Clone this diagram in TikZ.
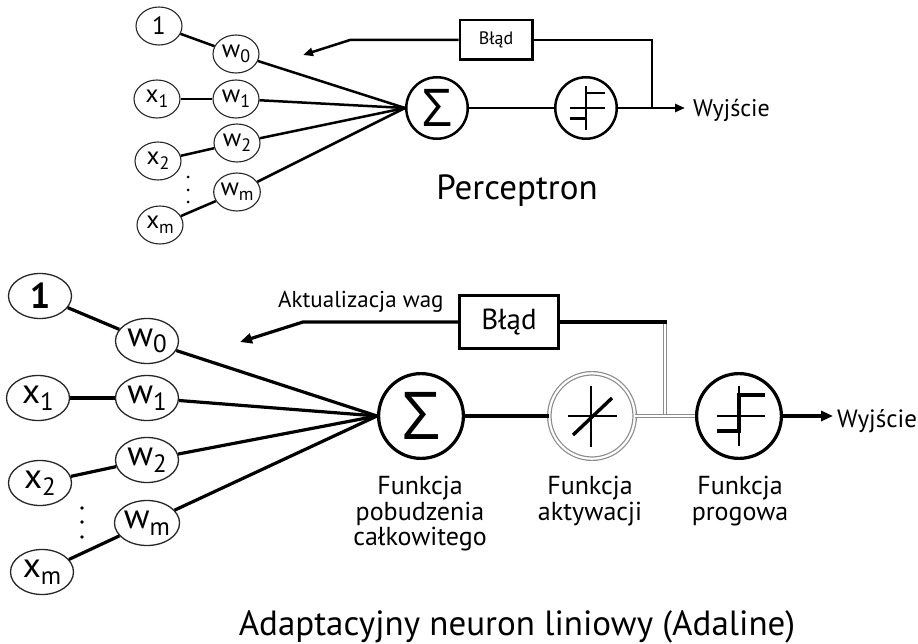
\documentclass[tikz,border=0pt]{standalone}
\usepackage{fontspec}
\setmainfont{PT Sans}
\newfontfamily\sigmafont{Open Sans}
\usetikzlibrary{arrows.meta,shapes.geometric}
\newcommand\fs[1]{\fontsize{#1}{#1}\selectfont}
\newcommand\sbT[1]{\raisebox{-4.5pt}{\fs{18}#1}}
\newcommand\sbB[1]{\raisebox{-6.5pt}{\fs{25}#1}}
\tikzset{
  inT/.style={ellipse, draw=black!85, line width=1.1pt, minimum width=46pt, minimum height=38pt, inner sep=0pt, font=\fs{25}},
  inB/.style={ellipse, draw=black!85, line width=1.3pt, minimum width=63pt, minimum height=45pt, inner sep=0pt, font=\fs{35}},
  unitT/.style={circle, draw, line width=2.5pt, minimum size=61.5pt, inner sep=0pt},
  unitB/.style={circle, draw, line width=3.2pt, minimum size=84.8pt, inner sep=0pt},
  dblunit/.style={circle, draw=black!45, line width=1.2pt, double=white, double distance=2.2pt, minimum size=85.4pt, inner sep=0pt},
  dblline/.style={draw=black!45, line width=1.2pt, double=white, double distance=2.2pt},
  boxT/.style={rectangle, draw, line width=2.5pt, minimum width=72.5pt, minimum height=39.5pt, inner sep=0pt, font=\fs{18}},
  boxB/.style={rectangle, draw, line width=3pt, minimum width=99pt, minimum height=53pt, inner sep=0pt, font=\fs{29}},
  wT/.style={line width=2.5pt},
  wB/.style={line width=3.2pt},
  arrT/.style={-{Triangle[length=10pt,width=8pt]}},
  arrB/.style={-{Triangle[length=12pt,width=10pt]}},
  lbl/.style={align=center, inner sep=0pt, anchor=north, font=\fontsize{26pt}{25.5pt}\selectfont},
  thinax/.style={line width=1.4pt},
  thickax/.style={line width=3.4pt},
  stepsym/.pic={
    \draw[thinax] (-22,0) -- (26,0) (0,-30) -- (0,30);
    \draw[thickax] (-22,15) -- (0,15) -- (0,-21) -- (26,-21);
  },
  linsym/.pic={
    \draw[thinax] (-24,0) -- (25,0) (-1,-30) -- (-1,31);
    \draw[thickax] (-19,19) -- (20,-18);
  }
}
\begin{document}
\begin{tikzpicture}[x=1pt,y=-1pt]
\useasboundingbox (0,0) rectangle (918,644);
\fill[white] (0,0) rectangle (918,644);

% ---------------- Perceptron ----------------
\node[inT] (t1) at (159,26) {1};
\node[inT] (tw0) at (236,54) {w\sbT{0}};
\node[inT] (tx1) at (157,99) {x\sbT{1}};
\node[inT] (tw1) at (236,99) {w\sbT{1}};
\node[inT] (tx2) at (158,161) {x\sbT{2}};
\node[inT] (tw2) at (237,143) {w\sbT{2}};
\node[inT] (twm) at (237,192) {w\sbT{m}};
\node[inT] (txm) at (160,225) {x\sbT{m}};
\foreach \yy in {177,190,202} \fill (188,\yy) circle (1.5pt);

\node[unitT, font=\sigmafont\fs{52}] (tsum) at (437,108) {Σ};
\node[unitT] (tthr) at (586,108) {};
\path (tthr.center) pic[scale=0.72, thinax/.style={line width=1.1pt}, thickax/.style={line width=2.6pt}] {stepsym};
\node[boxT] (terr) at (496,40) {Błąd};

\draw[wT] (t1) -- (tw0);
\draw[wT] (tx1) -- (tw1);
\draw[wT] (tx2) -- (tw2);
\draw[wT] (txm) -- (twm);
\foreach \n in {tw0,tw1,tw2,twm} \draw[wT] (\n) -- (tsum.west);
\draw[wT] (tsum) -- (tthr);
\coordinate (tout) at (685,108);
\coordinate (tj) at (652,108);
\draw[wT, arrT] (tthr) -- (tout);
\draw[wT] (tj) |- (terr.east);
\coordinate (tfb1) at (350,40);
\coordinate (tfb2) at (303,55);
\draw[wT, arrT] (terr.west) -- (tfb1) -- (tfb2);
\node[anchor=base west, inner sep=0pt, font=\fs{24}] (twy) at (693,117) {Wyjście};
\node[anchor=base, inner sep=0pt, font=\fs{35}] (tperc) at (517,200) {Perceptron};

% ---------------- Adaline ----------------
\node[inB, font=\fs{36}\bfseries] (b1) at (40,296) {1};
\node[inB] (bw0) at (147,341) {w\sbB{0}};
\node[inB] (bx1) at (38,398) {x\sbB{1}};
\node[inB] (bw1) at (147,398) {w\sbB{1}};
\node[inB] (bx2) at (40,483) {x\sbB{2}};
\node[inB] (bw2) at (147,460) {w\sbB{2}};
\node[inB] (bwm) at (147,523) {w\sbB{m}};
\node[inB] (bxm) at (42,572) {x\sbB{m}};
\foreach \yy in {508,522,537} \fill (82,\yy) circle (1.8pt);

\node[unitB, font=\sigmafont\fs{66}] (bsum) at (421,416) {Σ};
\node[dblunit] (bact) at (592,416) {};
\path (bact.center) pic {linsym};
\node[unitB] (bthr) at (739,416) {};
\path (bthr.center) pic {stepsym};
\node[boxB] (berr) at (509,322) {Błąd};

\draw[wB] (b1) -- (bw0);
\draw[wB] (bx1) -- (bw1);
\draw[wB] (bx2) -- (bw2);
\draw[wB] (bxm) -- (bwm);
\foreach \n in {bw0,bw1,bw2,bwm} \draw[wB] (\n) -- (bsum.west);
\draw[wB] (bsum) -- (bact);
\coordinate (bjtop) at (665,322);
\coordinate (bjbot) at (665,416);
\coordinate (bjend) at (667,322);
\draw[dblline] (bjtop) -- (bjbot);
\draw[dblline] (bact) -- (bthr);
\draw[wB] (berr.east) -- (bjend);
\coordinate (bfb1) at (303,322);
\coordinate (bfb2) at (240,342);
\draw[wB, arrB] (berr.west) -- (bfb1) -- (bfb2);
\coordinate (bout) at (833,416);
\draw[wB, arrB] (bthr) -- (bout);
\node[anchor=base west, inner sep=0pt, font=\fs{25}] (bwy) at (837,427) {Wyjście};
\node[anchor=base west, inner sep=0pt, font=\fs{23}] (bakt) at (278,308) {Aktualizacja wag};

\node[lbl] (lsum) at (420,476) {Funkcja\\pobudzenia\\całkowitego};
\node[lbl] (lact) at (590,476) {Funkcja\\aktywacji};
\node[lbl] (lthr) at (740,476) {Funkcja\\progowa};

\node[anchor=base, inner sep=0pt, font=\fs{35}] (btitle) at (517,635) {Adaptacyjny neuron liniowy (Adaline)};
\end{tikzpicture}
\end{document}
